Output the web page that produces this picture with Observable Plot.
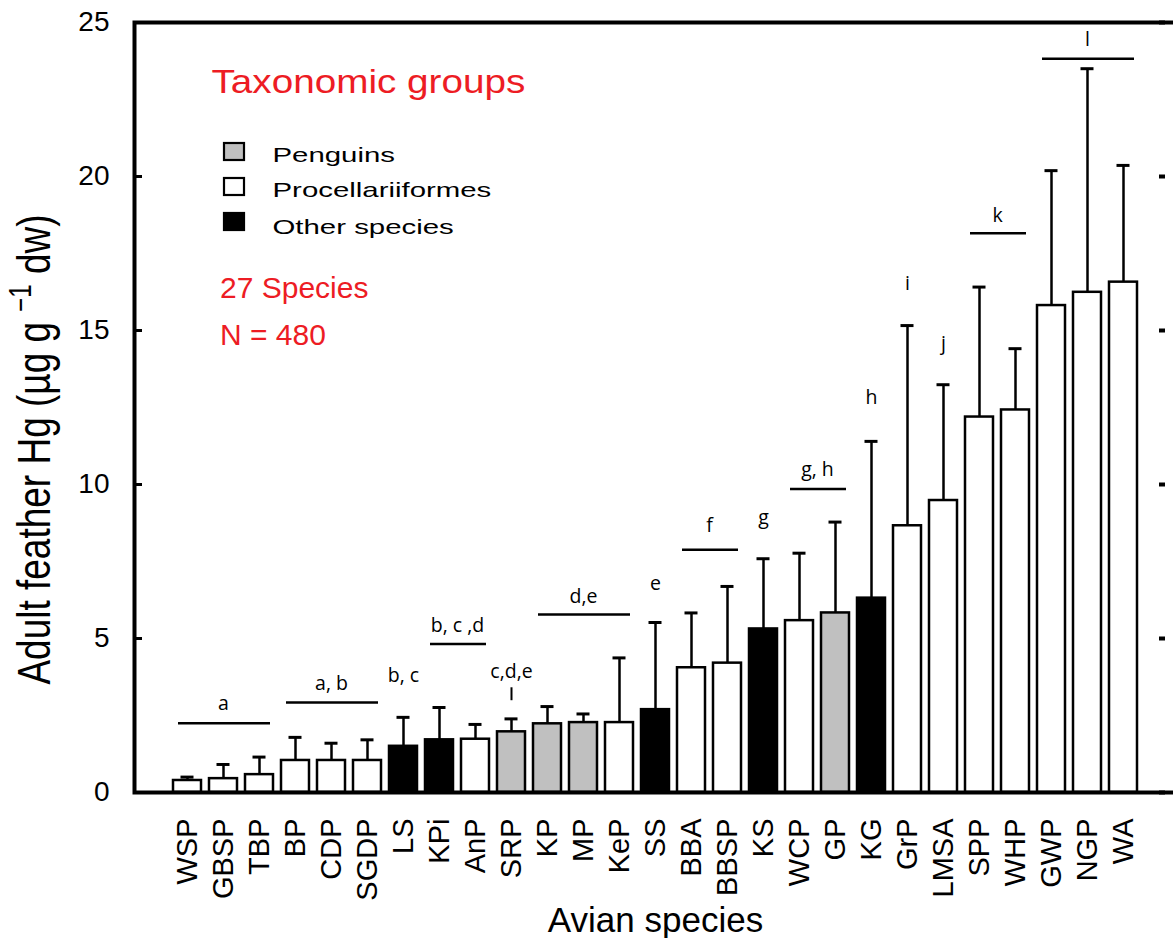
<!DOCTYPE html>
<html><head><meta charset="utf-8">
<script src="https://cdn.jsdelivr.net/npm/d3@7"></script>
<script src="https://cdn.jsdelivr.net/npm/@observablehq/plot@0.6"></script>
<style>
html,body{margin:0;padding:0;background:#fff;overflow:hidden;}
#wrap{position:relative;width:1173px;height:938px;overflow:hidden;}
#wrap svg{position:absolute;left:0;top:0;}
</style></head><body><div id="wrap"></div>
<script>
// ---- data ----
const species = ["WSP","GBSP","TBP","BP","CDP","SGDP","LS","KPi","AnP","SRP","KP","MP","KeP","SS","BBA","BBSP","KS","WCP","GP","KG","GrP","LMSA","SPP","WHP","GWP","NGP","WA"];
const groups  = ["Procellariiformes","Procellariiformes","Procellariiformes","Procellariiformes","Procellariiformes","Procellariiformes","Other species","Other species","Procellariiformes","Penguins","Penguins","Penguins","Procellariiformes","Other species","Procellariiformes","Procellariiformes","Other species","Procellariiformes","Penguins","Other species","Procellariiformes","Procellariiformes","Procellariiformes","Procellariiformes","Procellariiformes","Procellariiformes","Procellariiformes"];
const means   = [0.39,0.45,0.58,1.04,1.04,1.04,1.50,1.71,1.73,1.97,2.23,2.27,2.27,2.69,4.05,4.20,5.31,5.58,5.83,6.31,8.66,9.48,12.19,12.42,15.81,16.24,16.57];
const upper   = [0.50,0.91,1.15,1.79,1.60,1.71,2.44,2.76,2.21,2.39,2.79,2.55,4.37,5.52,5.83,6.69,7.59,7.77,8.78,11.40,15.16,13.24,16.41,14.41,20.19,23.50,20.36];
const groupNames  = ["Penguins","Procellariiformes","Other species"];
const groupColors = ["#c0c0c0","#ffffff","#000000"];
const yTicks = [0,5,10,15,20,25];

// significance groups (horizontal lines)
const lineFrom = ["WSP","BP","KPi","KP","BBA","WCP","SPP","GWP"];
const lineTo   = ["TBP","SGDP","AnP","KeP","BBSP","GP","WHP","WA"];
const lineY    = [2.25,2.92,4.82,5.78,7.88,9.85,18.16,23.82];

// letters centred on a bar
const letterText = ["a","a, b","b, c","c,d,e","d,e","e","g","h","i","j","l"];
const letterAt   = ["GBSP","CDP","LS","SRP","MP","SS","KS","KG","GrP","LMSA","NGP"];
const letterY    = [2.88,3.53,3.80,3.92,6.36,6.77,8.92,12.82,16.52,14.58,24.44];
// letters centred between two bars (anchored on the left one)
const midText = ["b, c ,d","f","g, h","k"];
const midAt   = ["KPi","BBA","WCP","SPP"];
const midY    = [5.42,8.67,10.48,18.73];
// single-species marker
const markAt = ["SRP"], markY1 = [2.98], markY2 = [3.40];

const data = species.map((s,i)=>({species:s, group:groups[i], mean:means[i], upper:upper[i]}));
const lines = lineFrom.map((f,i)=>({from:f, to:lineTo[i], y:lineY[i]}));
const letters = letterText.map((t,i)=>({text:t, species:letterAt[i], y:letterY[i]}));
const mids = midText.map((t,i)=>({text:t, species:midAt[i], y:midY[i]}));
const markers = markAt.map((s,i)=>({species:s, y1:markY1[i], y2:markY2[i]}));

const annFont = "'Open Sans', sans-serif";
const plot = Plot.plot({
  width:1173, height:938,
  marginLeft:134, marginRight:-3, marginTop:22, marginBottom:146,
  style:{fontFamily:"'Liberation Sans', Arial, sans-serif", background:"white", color:"black"},
  x:{domain:species, paddingInner:0.22, paddingOuter:1.08},
  y:{domain:[0,25]},
  color:{domain:groupNames, range:groupColors},
  marks:[
    Plot.barY(data,{x:"species", y:"mean", fill:"group", stroke:"black", strokeWidth:2.5}),
    Plot.ruleX(data,{x:"species", y1:"mean", y2:"upper", stroke:"black", strokeWidth:2.5}),
    Plot.tickY(data,{x:"species", y:"upper", stroke:"black", strokeWidth:3, insetLeft:7.5, insetRight:7.5}),
    Plot.ruleY(lines,{x1:"from", x2:"to", y:"y", stroke:"black", strokeWidth:2.5, insetLeft:5, insetRight:3}),
    Plot.ruleX(markers,{x:"species", y1:"y1", y2:"y2", stroke:"black", strokeWidth:2}),
    Plot.text(letters,{x:"species", y:"y", text:"text", fontSize:19.5, fontFamily:annFont, fill:"black"}),
    Plot.text(mids,{x:"species", y:"y", text:"text", dx:18, fontSize:19.5, fontFamily:annFont, fill:"black"}),
    Plot.axisY({ticks:yTicks, anchor:"left", tickSize:-8, tickPadding:33, strokeWidth:3, fontSize:28, label:null}),
    Plot.axisY({ticks:yTicks, anchor:"right", tickSize:6, insetRight:18, strokeWidth:4, tickFormat:()=>"", label:null}),
    Plot.axisX({anchor:"bottom", tickSize:0, tickPadding:26, tickRotate:-90, fontSize:29, label:null}),
    Plot.frame({stroke:"black", strokeWidth:4})
  ]
});
const wrap = document.getElementById("wrap");
wrap.appendChild(plot);

// ---- overlay: legend and axis titles ----
const red = "#ed1c24";
const ov = d3.select(wrap).append("svg")
  .attr("width",1173).attr("height",938)
  .style("font-family","'Liberation Sans', Arial, sans-serif");

ov.append("text").attr("transform","translate(211.5,93) scale(1.19,1)")
  .attr("font-size",32.5).attr("fill",red).text("Taxonomic groups");

const legY = [143,178,213];
const legBase = [161.7,196.7,234];
groupNames.forEach((g,i)=>{
  ov.append("rect").attr("x",224).attr("y",legY[i]).attr("width",20).attr("height",17)
    .attr("fill",groupColors[i]).attr("stroke","black").attr("stroke-width",2.2);
  ov.append("text").attr("transform",`translate(272.5,${legBase[i]}) scale(1.4,1)`)
    .attr("font-size",21).attr("fill","black").text(g);
});
ov.append("text").attr("x",220).attr("y",298).attr("font-size",30).attr("fill",red).text("27 Species");
ov.append("text").attr("x",220).attr("y",345).attr("font-size",30).attr("fill",red).text("N = 480");

ov.append("text").attr("x",655.5).attr("y",931.5).attr("text-anchor","middle")
  .attr("font-size",35).attr("fill","black").text("Avian species");

const yt = ov.append("text").attr("transform","translate(50,449.5) rotate(-90) scale(1,1.27)")
  .attr("text-anchor","middle").attr("font-size",37).attr("fill","black");
yt.append("tspan").text("Adult feather Hg (µg g ");
yt.append("tspan").attr("dy",-15).attr("font-size",24).text("−1");
yt.append("tspan").attr("dy",15).text("  dw)");
</script></body></html>
